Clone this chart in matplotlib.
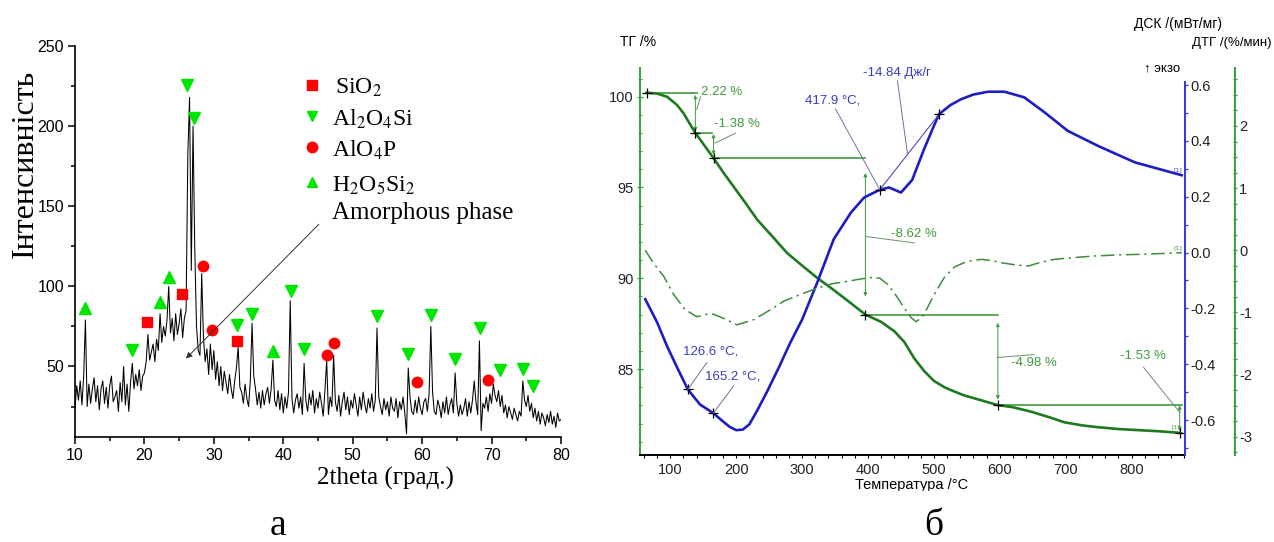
import matplotlib.pyplot as plt
import numpy as np
from matplotlib import font_manager
from matplotlib.patches import Rectangle
from matplotlib.ticker import MultipleLocator, FormatStrFormatter

plt.rcParams['axes.unicode_minus'] = False
plt.rcParams['mathtext.fontset'] = 'stix'

# ---------------- (а) XRD pattern ----------------
THETA_START = 10.0
THETA_STEP = 0.25
xrd_intensity = [
    24, 38, 29, 41, 26, 44, 79, 25, 39, 27, 36, 43, 28, 38, 23, 36,        # 10-13
    41, 27, 37, 24, 38, 44, 28, 31, 35, 22, 40, 28, 50, 26, 39, 22,        # 14-17
    40, 52, 36, 45, 38, 48, 35, 44, 46, 53, 70, 54, 59, 64, 53, 67,        # 18-21
    60, 83, 65, 75, 69, 79, 100, 71, 80, 66, 83, 70, 77, 86, 68, 80,       # 22-25
    85, 182, 218, 110, 200, 124, 75, 60, 57, 108, 68, 53, 61, 45, 64, 48,  # 26-29
    60, 42, 53, 38, 50, 35, 47, 40, 33, 45, 36, 30, 41, 49, 62, 37,        # 30-33
    34, 27, 39, 30, 25, 41, 77, 44, 36, 26, 34, 24, 35, 26, 33, 37,        # 34-37
    27, 36, 54, 29, 25, 35, 23, 33, 21, 31, 24, 34, 91, 30, 21, 29,        # 38-41
    33, 24, 31, 20, 52, 29, 22, 33, 26, 35, 21, 30, 24, 34, 27, 19,        # 42-45
    35, 54, 20, 31, 25, 57, 28, 22, 32, 19, 28, 34, 23, 31, 20, 29,        # 46-49
    24, 33, 26, 19, 31, 23, 34, 26, 21, 30, 24, 33, 22, 29, 74, 31,        # 50-53
    25, 20, 30, 23, 28, 19, 31, 24, 22, 30, 18, 28, 23, 31, 21, 8,         # 54-57
    49, 31, 22, 20, 29, 21, 31, 24, 20, 28, 30, 22, 33, 75, 34, 22,        # 58-61
    20, 29, 25, 18, 28, 21, 31, 20, 26, 30, 21, 46, 27, 19, 26, 20,        # 62-65
    24, 30, 19, 28, 21, 29, 41, 28, 20, 66, 10, 27, 24, 31, 22, 33,        # 66-69
    27, 39, 32, 28, 35, 25, 32, 21, 26, 18, 25, 21, 17, 24, 20, 16,        # 70-73
    22, 19, 41, 29, 25, 32, 22, 27, 18, 24, 16, 22, 14, 21, 18, 13,        # 74-77
    20, 15, 22, 14, 19, 12, 21, 16, 17,                                    # 78-80
]

sio2_x = [20.4, 25.4, 33.4]
sio2_y = [77.7, 95, 65.6]
al2o4si_x = [18.2, 26.2, 27.1, 33.3, 35.5, 41.1, 43.0, 53.5, 58.0, 61.25, 64.75, 68.35, 71.2, 74.5, 75.9]
al2o4si_y = [60.6, 225.6, 205, 75.6, 83, 97, 61, 81.3, 57.5, 81.9, 54.4, 74.2, 47.9, 48.5, 38.1]
alo4p_x = [28.4, 29.8, 46.3, 47.3, 59.3, 69.5]
alo4p_y = [113, 73, 57.3, 64.6, 40.2, 41.3]
h2o5si2_x = [11.4, 22.2, 23.5, 38.5]
h2o5si2_y = [86.5, 90, 106, 59.6]

# ---------------- (б) TG / DSC / DTG ----------------
tg_temp = [64, 80, 95, 110, 120, 138, 150, 165.6, 180, 196, 215, 232, 255, 277, 300,
           323, 350, 375, 396, 420, 440, 455, 470, 485, 500, 516, 530, 546, 570, 597,
           620, 648, 675, 698, 725, 749, 780, 805, 840, 873]
tg_mass = [100.22, 100.17, 100.0, 99.55, 99.09, 98.0, 97.4, 96.62, 95.85, 95.05, 94.1,
           93.22, 92.3, 91.4, 90.7, 90.02, 89.3, 88.6, 88.0, 87.6, 87.08, 86.5, 85.6,
           84.9, 84.35, 84.0, 83.78, 83.55, 83.3, 83.02, 82.9, 82.65, 82.35, 82.07, 81.9,
           81.8, 81.7, 81.65, 81.58, 81.49]

dsc_temp = [62, 80, 95, 110, 126.6, 145, 165.2, 180, 190, 200, 210, 220, 232, 246, 265,
            282, 300, 323, 348, 374, 394, 417.9, 432, 450, 467, 485, 500, 508, 525, 541,
            560, 582, 607, 637, 668, 703, 749, 805, 876]
dsc_signal = [-0.167, -0.25, -0.335, -0.41, -0.49, -0.544, -0.575, -0.605, -0.624, -0.636,
              -0.634, -0.615, -0.565, -0.502, -0.41, -0.323, -0.24, -0.107, 0.048, 0.143,
              0.197, 0.225, 0.233, 0.215, 0.26, 0.37, 0.454, 0.496, 0.528, 0.549, 0.566,
              0.576, 0.576, 0.556, 0.502, 0.436, 0.382, 0.323, 0.277]

dtg_temp = [62, 74, 90, 105, 122, 140, 155, 166, 186, 201, 226, 250, 272, 300, 323, 345,
            369, 390, 404, 418, 430, 442, 455, 465, 473, 482, 490, 500, 515, 531, 550, 572,
            590, 602, 620, 643, 660, 683, 710, 744, 780, 815, 876]
dtg_rate = [0.0, -0.2, -0.42, -0.71, -0.95, -1.07, -1.03, -1.03, -1.12, -1.2, -1.12, -0.97,
            -0.82, -0.7, -0.61, -0.54, -0.5, -0.46, -0.44, -0.45, -0.55, -0.72, -0.93,
            -1.08, -1.15, -1.08, -0.93, -0.72, -0.45, -0.27, -0.18, -0.146, -0.17, -0.2,
            -0.23, -0.255, -0.2, -0.146, -0.12, -0.092, -0.075, -0.065, -0.04]

# mass-loss steps and their labels
tg_levels = [100.22, 98.0, 96.62, 88.0, 83.02, 81.49]
tg_level_temps = [64, 138, 165.6, 396, 597, 873]
tg_step_labels = ['2.22 %', '-1.38 %', '-8.62 %', '-4.98 %', '-1.53 %']

dsc_peak_temps = [126.6, 165.2, 417.9, 508]
dsc_peak_values = [-0.49, -0.575, 0.225, 0.496]

SERIF = ['Liberation Serif', 'DejaVu Serif']
_names = {f.name for f in font_manager.fontManager.ttflist}
SANS = ['Liberation Sans Narrow' if 'Liberation Sans Narrow' in _names else 'Liberation Sans',
        'DejaVu Sans']

GREEN_TG = '#1f7a1f'
GREEN_AX = '#33a533'
GREEN_NOTE = '#3c9c3c'
GREEN_DTG = '#3d8d3d'
BLUE = '#1d1dc4'
BLUE_AX = '#3434dd'
BLUE_NOTE = '#3b3bbf'
LEAD_G = '#6d8f6d'
LEAD_B = '#7070a0'


def plot_xrd(fig):
    ax = fig.add_axes([75 / 1274, 1 - 437 / 542, 486 / 1274, 391 / 542])
    theta = THETA_START + THETA_STEP * np.arange(len(xrd_intensity))
    ax.plot(theta, xrd_intensity, color='black', lw=0.75)

    ax.plot(sio2_x, sio2_y, 's', color='#ff0000', ms=7, ls='none')
    ax.plot(al2o4si_x, al2o4si_y, 'v', color='#00e600', ms=8.5, ls='none')
    ax.plot(alo4p_x, alo4p_y, 'o', color='#ff0000', ms=7.5, ls='none')
    ax.plot(h2o5si2_x, h2o5si2_y, '^', color='#00e600', ms=8.5, ls='none')

    # hand placed legend, as in the original
    legend = [('s', '#ff0000', r'SiO$_2$', 225.6, 47.4),
              ('v', '#00e600', r'Al$_2$O$_4$Si', 206.3, 47.0),
              ('o', '#ff0000', r'AlO$_4$P', 186.9, 47.0),
              ('^', '#00e600', r'H$_2$O$_5$Si$_2$', 165.0, 47.0)]
    for marker, color, label, y, xt in legend:
        ax.plot([44.15], [y], marker, color=color, ms=7.5, ls='none', clip_on=False)
        ax.text(xt, y - 2, label, fontsize=17, family=SERIF, va='center')

    ax.text(47.0, 146, 'Amorphous phase', fontsize=18, family=SERIF, va='center')
    ax.annotate('', xy=(25.7, 53.7), xytext=(45.4, 140),
                arrowprops=dict(arrowstyle='-|>', lw=0.7, color='#333333', mutation_scale=9))

    ax.set_xlim(10, 80)
    ax.set_ylim(6, 250)
    ax.xaxis.set_major_locator(MultipleLocator(10))
    ax.xaxis.set_minor_locator(MultipleLocator(5))
    ax.yaxis.set_major_locator(MultipleLocator(50))
    ax.yaxis.set_minor_locator(MultipleLocator(25))
    ax.tick_params(which='major', length=5, width=1.1, labelsize=11.5, pad=3)
    ax.tick_params(which='minor', length=3, width=1.1)
    for lab in ax.get_xticklabels() + ax.get_yticklabels():
        lab.set_family('Liberation Sans')
    for side in ('top', 'right'):
        ax.spines[side].set_visible(False)
    for side in ('left', 'bottom'):
        ax.spines[side].set_linewidth(1.2)

    fig.text(25 / 1274, 1 - 164 / 542, 'Інтенсивність', rotation=90, fontsize=23,
             family=SERIF, ha='center', va='center')
    fig.text(385 / 1274, 1 - 478 / 542, '2theta (град.)', fontsize=18, family=SERIF,
             ha='center', va='center')
    fig.text(278 / 1274, 1 - 526 / 542, 'а', fontsize=27, family=SERIF, ha='center', va='center')


def plot_thermal(fig):
    ax = fig.add_axes([640 / 1274, 1 - 455 / 542, 545 / 1274, 387 / 542])
    ax_dsc = ax.twinx()
    ax_dtg = ax.twinx()

    ax.set_xlim(54, 881)
    ax.set_ylim(80.27, 101.58)
    ax_dsc.set_ylim(-0.725, 0.661)
    ax_dtg.set_ylim(-3.295, 2.933)

    # curves
    ax.plot(tg_temp, tg_mass, color=GREEN_TG, lw=1.9, zorder=5)
    ax_dsc.plot(dsc_temp, dsc_signal, color=BLUE, lw=1.9)
    ax_dtg.plot(dtg_temp, dtg_rate, color=GREEN_DTG, lw=1.1, ls=(0, (9, 3, 1.5, 3)))

    # TG step construction
    step_ends = [141, 163, 396, 597, 876]
    for i in range(5):
        ax.plot([tg_level_temps[i], step_ends[i]], [tg_levels[i], tg_levels[i]],
                color=GREEN_NOTE, lw=1.2, zorder=4)
    ax.plot([873, 876], [tg_levels[5], tg_levels[5]], color=GREEN_NOTE, lw=1.2)

    arrow_spans = [(138, 100.1, 98.1), (165.6, 97.95, 96.8), (396, 95.8, 89.0),
                   (597, 87.55, 83.33), (873, 83.0, 81.6)]
    for t, y0, y1 in arrow_spans:
        ax.annotate('', xy=(t, y1), xytext=(t, y0),
                    arrowprops=dict(arrowstyle='<|-|>', lw=0.7, color=GREEN_NOTE,
                                    mutation_scale=5, shrinkA=0, shrinkB=0))

    leaders = [((140, 99.3), (146, 100.0)), ((168, 97.45), (199, 97.99)),
               ((397, 92.3), (470, 91.95)), ((596, 85.64), (652, 85.8)),
               ((818, 85.1), (873, 82.62))]
    for (x0, y0), (x1, y1) in leaders:
        ax.plot([x0, x1], [y0, y1], color=LEAD_G, lw=0.7)

    label_pos = [(146, 100.27, 'left'), (166, 98.5, 'left'), (470, 92.42, 'center'),
                 (652, 85.35, 'center'), (817, 85.72, 'center')]
    for (x, y, ha), lab in zip(label_pos, tg_step_labels):
        ax.text(x, y, lab, color=GREEN_NOTE, fontsize=9.5, family=SANS, ha=ha, va='center')

    ax.plot(tg_level_temps, tg_levels, '+', color='black', ms=7, mew=0.9, zorder=6)

    # DSC peak marks
    ax_dsc.plot([417.9, 508], [0.225, 0.496], color='#4a4ad0', lw=0.8)
    ax_dsc.plot(dsc_peak_temps, dsc_peak_values, '+', color='black', ms=7, mew=0.9)
    dsc_notes = [('126.6 °C,', (160.5, -0.353), (155.5, -0.394), (126.6, -0.49)),
                 ('165.2 °C,', (194, -0.443), (196, -0.478), (165.2, -0.575)),
                 ('417.9 °C,', (346, 0.546), (350.8, 0.514), (417.9, 0.225)),
                 ('-14.84 Дж/г', (443.6, 0.643), (444.7, 0.615), (460, 0.352))]
    for lab, (tx, ty), (x0, y0), (x1, y1) in dsc_notes:
        ax_dsc.text(tx, ty, lab, color=BLUE_NOTE, fontsize=9.5, family=SANS,
                    ha='center', va='center')
        ax_dsc.plot([x0, x1], [y0, y1], color=LEAD_B, lw=0.7)

    ax_dsc.text(870, 0.292, '[1]', color=BLUE_NOTE, fontsize=4.5, ha='center')
    ax_dtg.text(870, 0.02, '[1]', color=GREEN_NOTE, fontsize=4.5, ha='center')
    ax.text(867, 81.75, '[1]', color=GREEN_NOTE, fontsize=4.5, ha='center')

    # axes styling
    for side in ('top', 'right'):
        ax.spines[side].set_visible(False)
    ax.spines['left'].set_color(GREEN_AX)
    ax.spines['left'].set_linewidth(1.4)
    ax.spines['bottom'].set_linewidth(1.4)
    ax.xaxis.set_major_locator(MultipleLocator(100))
    ax.xaxis.set_minor_locator(MultipleLocator(20))
    ax.yaxis.set_major_locator(MultipleLocator(5))
    ax.yaxis.set_minor_locator(MultipleLocator(1))
    ax.tick_params(axis='x', which='both', direction='out', length=2.5, width=0.8,
                   labelsize=10.5, pad=3, labelcolor='#222222')
    ax.tick_params(axis='y', which='major', direction='inout', length=5, width=0.9,
                   color=GREEN_AX, labelsize=10.5, pad=2, labelcolor='#222222')
    ax.tick_params(axis='y', which='minor', direction='inout', length=3, width=0.8,
                   color=GREEN_AX)

    for a in (ax_dsc, ax_dtg):
        for side in ('top', 'left', 'bottom'):
            a.spines[side].set_visible(False)
    ax_dsc.spines['right'].set_color(BLUE_AX)
    ax_dsc.spines['right'].set_linewidth(1.4)
    ax_dsc.spines['right'].set_bounds(-0.725, 0.612)
    ax_dsc.yaxis.set_major_locator(MultipleLocator(0.2))
    ax_dsc.yaxis.set_minor_locator(MultipleLocator(0.1))
    ax_dsc.yaxis.set_major_formatter(FormatStrFormatter('%.1f'))
    ax_dsc.tick_params(which='both', direction='out', length=2.5, width=0.9, color=BLUE_AX,
                       labelsize=10.5, pad=1.5, labelcolor='#222222')

    ax_dtg.spines['right'].set_position(('axes', 595 / 545))
    ax_dtg.spines['right'].set_color(GREEN_AX)
    ax_dtg.spines['right'].set_linewidth(1.4)
    ax_dtg.yaxis.set_major_locator(MultipleLocator(1))
    ax_dtg.yaxis.set_minor_locator(MultipleLocator(0.25))
    ax_dtg.yaxis.set_major_formatter(FormatStrFormatter('%d'))
    ax_dtg.tick_params(which='both', direction='inout', length=3, width=0.9, color=GREEN_AX,
                       labelsize=10.5, pad=1.5, labelcolor='#222222')

    for a in (ax, ax_dsc, ax_dtg):
        for lab in a.get_xticklabels() + a.get_yticklabels():
            lab.set_family(SANS)

    fig.text(620 / 1274, 1 - 42 / 542, 'ТГ /%', fontsize=10, family=SANS, va='center')
    fig.text(1222 / 1274, 1 - 24 / 542, 'ДСК /(мВт/мг)', fontsize=10, family=SANS,
             ha='right', va='center')
    fig.text(1271 / 1274, 1 - 43 / 542, 'ДТГ /(%/мин)', fontsize=9.5, family=SANS,
             ha='right', va='center')
    fig.text(1162 / 1274, 1 - 68 / 542, '↑ экзо', fontsize=9.5, family=SANS,
             ha='center', va='center')
    fig.text(912 / 1274, 1 - 485 / 542, 'Температура /°C', fontsize=10.5, family=SANS,
             ha='center', va='center')
    # the source screenshot cuts the axis title off at the bottom
    fig.add_artist(Rectangle((850 / 1274, 1 - 500 / 542), 130 / 1274, 9 / 542,
                             transform=fig.transFigure, color='white', zorder=10))
    fig.text(934 / 1274, 1 - 526 / 542, 'б', fontsize=27, family=SERIF, ha='center',
             va='center')


fig = plt.figure(figsize=(12.74, 5.42), dpi=100)
plot_xrd(fig)
plot_thermal(fig)
fig.savefig('out.png', dpi=100)
